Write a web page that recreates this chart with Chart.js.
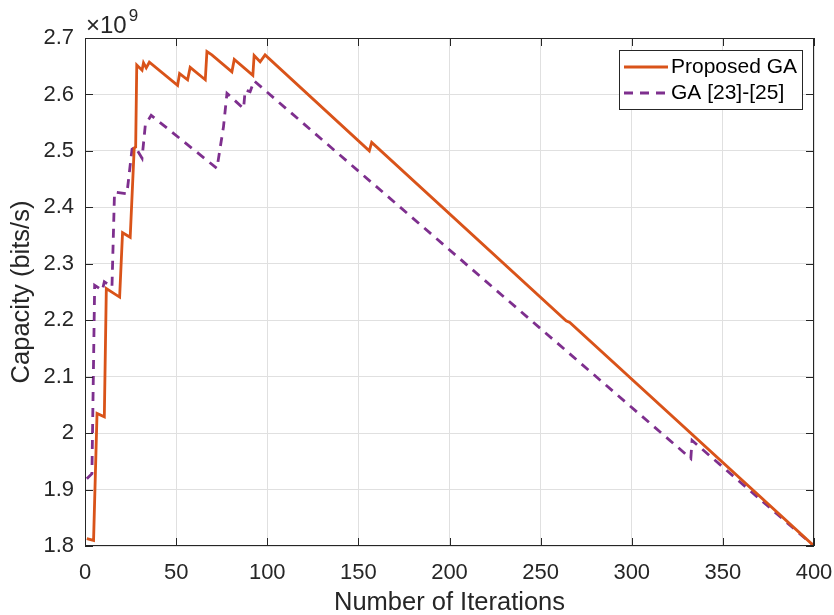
<!DOCTYPE html>
<html>
<head>
<meta charset="utf-8">
<script src="https://cdn.jsdelivr.net/npm/chart.js@4/dist/chart.umd.min.js"></script>
<style>
	body { margin: 0; background: #fff; }
	canvas { display: block; }
</style>
</head>
<body>
<canvas id="capacidade" width="834" height="615"></canvas>
<script>
// Proposed GA (iteration, capacity x 1e9 bits/s)
var gaIter = [1, 4.7, 6.6, 10.6, 11.7, 19, 20.6, 24.8, 27, 27.8, 28.4, 31.3, 32.1, 33.6, 35.3,
	50.8, 51.9, 56.3, 57.7, 66, 66.9, 69.6, 80.6, 81.9, 92.1, 92.8, 96.1, 98.8,
	156, 157.3, 264, 266, 400];
var gaCap = [1.813, 1.81, 2.035, 2.029, 2.256, 2.241, 2.355, 2.347, 2.505, 2.507, 2.652, 2.643, 2.656, 2.647, 2.657,
	2.616, 2.637, 2.626, 2.648, 2.626, 2.676, 2.67, 2.64, 2.662, 2.634, 2.669, 2.658, 2.67,
	2.5, 2.515, 2.199, 2.196, 1.8];

// GA [23]-[25]
var refIter = [1, 3.8, 5.3, 9.5, 10.6, 14.8, 16.2, 23, 25.8, 27.6, 31.3, 33.1, 36.3,
	72.4, 76, 77.9, 87, 87.9, 90.6, 92.8, 332.4, 333.1, 400];
var refCap = [1.919, 1.928, 2.262, 2.253, 2.268, 2.259, 2.427, 2.424, 2.503, 2.507, 2.487, 2.546, 2.563,
	2.469, 2.543, 2.602, 2.575, 2.608, 2.605, 2.624, 1.955, 1.987, 1.8];

var seriesNames = ['Proposed GA', 'GA [23]-[25]'];
var xTicks = [0, 400, 50];     // min, max, step
var yTicks = [1.8, 2.7, 0.1];
var expoente = 9;

var corTexto = '#262626';
var fonte = "'Liberation Sans', Arial, sans-serif";

function pontos(xs, ys) {
	return xs.map(function(v, i) { return {x: v, y: ys[i]}; });
}

// caixa dos eixos com ticks para dentro, x10^9 e legenda
var moldura = {
	id: 'moldura',
	afterDatasetsDraw: function(chart) {
		var ctx = chart.ctx, a = chart.chartArea;
		var sx = chart.scales.x, sy = chart.scales.y;
		ctx.save();
		ctx.strokeStyle = corTexto;
		ctx.lineWidth = 1;
		ctx.strokeRect(Math.round(a.left) + 0.5, Math.round(a.top) + 0.5,
			Math.round(a.right - a.left) - 1, Math.round(a.bottom - a.top) - 1);
		ctx.beginPath();
		sx.ticks.forEach(function(t) {
			var px = Math.round(sx.getPixelForValue(t.value)) + 0.5;
			ctx.moveTo(px, a.bottom); ctx.lineTo(px, a.bottom - 8);
			ctx.moveTo(px, a.top); ctx.lineTo(px, a.top + 8);
		});
		sy.ticks.forEach(function(t) {
			var py = Math.round(sy.getPixelForValue(t.value)) + 0.5;
			ctx.moveTo(a.left, py); ctx.lineTo(a.left + 8, py);
			ctx.moveTo(a.right, py); ctx.lineTo(a.right - 8, py);
		});
		ctx.stroke();

		// x10^9
		ctx.fillStyle = corTexto;
		ctx.textBaseline = 'alphabetic';
		ctx.textAlign = 'left';
		ctx.font = '24px ' + fonte;
		ctx.fillText('\u00d710', a.left + 1, a.top - 5);
		var w = ctx.measureText('\u00d710').width;
		ctx.font = '17px ' + fonte;
		ctx.fillText(String(expoente), a.left + 3 + w, a.top - 17);

		// legenda
		var lx = a.right - 195, ly = a.top + 12, lw = 183, lh = 59;
		ctx.fillStyle = '#fff';
		ctx.fillRect(lx, ly, lw, lh);
		ctx.strokeStyle = corTexto;
		ctx.strokeRect(lx + 0.5, ly + 0.5, lw, lh);
		ctx.font = '21px ' + fonte;
		ctx.textBaseline = 'middle';
		chart.data.datasets.forEach(function(ds, i) {
			var yy = ly + 17 + i * 26;
			ctx.beginPath();
			ctx.strokeStyle = ds.borderColor;
			ctx.lineWidth = ds.borderWidth;
			ctx.setLineDash(ds.borderDash || []);
			ctx.moveTo(lx + 5, yy); ctx.lineTo(lx + 49, yy);
			ctx.stroke();
			ctx.setLineDash([]);
			ctx.fillStyle = '#000';
			ctx.fillText(ds.label, lx + 52, yy);
		});
		ctx.restore();
	}
};

var ctx = document.getElementById('capacidade');
var grafico = new Chart(ctx, {
	type: 'line',
	data: {
		datasets: [{
			label: seriesNames[0],
			data: pontos(gaIter, gaCap),
			borderColor: '#D95319',
			borderWidth: 2.8,
			borderCapStyle: 'butt',
			borderJoinStyle: 'miter'
		}, {
			label: seriesNames[1],
			data: pontos(refIter, refCap),
			borderColor: '#7E2F8E',
			borderWidth: 2.8,
			borderDash: [9, 7],
			borderCapStyle: 'butt'
		}]
	},
	options: {
		responsive: false,
		animation: false,
		layout: { padding: { top: 38, right: 20, left: 0, bottom: 0 } },
		elements: { point: { radius: 0 }, line: { tension: 0 } },
		plugins: { legend: { display: false }, tooltip: { enabled: false } },
		scales: {
			x: {
				type: 'linear',
				min: xTicks[0], max: xTicks[1],
				ticks: { stepSize: xTicks[2], padding: 14, color: corTexto, maxRotation: 0,
					font: { family: fonte, size: 22 } },
				grid: { color: '#e0e0e0', drawTicks: false },
				border: { display: false },
				title: { display: true, text: 'Number of Iterations', color: corTexto,
					font: { family: fonte, size: 25.5, lineHeight: 1 }, padding: { top: 0, bottom: -1 } },
				afterFit: function(s) { s.height = 69; s.paddingLeft = 0; s.paddingRight = 0; }
			},
			y: {
				min: yTicks[0], max: yTicks[1],
				ticks: { stepSize: yTicks[2], padding: 11, color: corTexto,
					font: { family: fonte, size: 22 },
					callback: function(v) { return String(Number(v.toFixed(1))); } },
				grid: { color: '#e0e0e0', drawTicks: false },
				border: { display: false },
				title: { display: true, text: 'Capacity (bits/s)', color: corTexto,
					font: { family: fonte, size: 25.5 }, padding: { top: 7, bottom: 0 } },
				afterFit: function(s) { s.width = 85; }
			}
		}
	},
	plugins: [moldura]
});
</script>
</body>
</html>
